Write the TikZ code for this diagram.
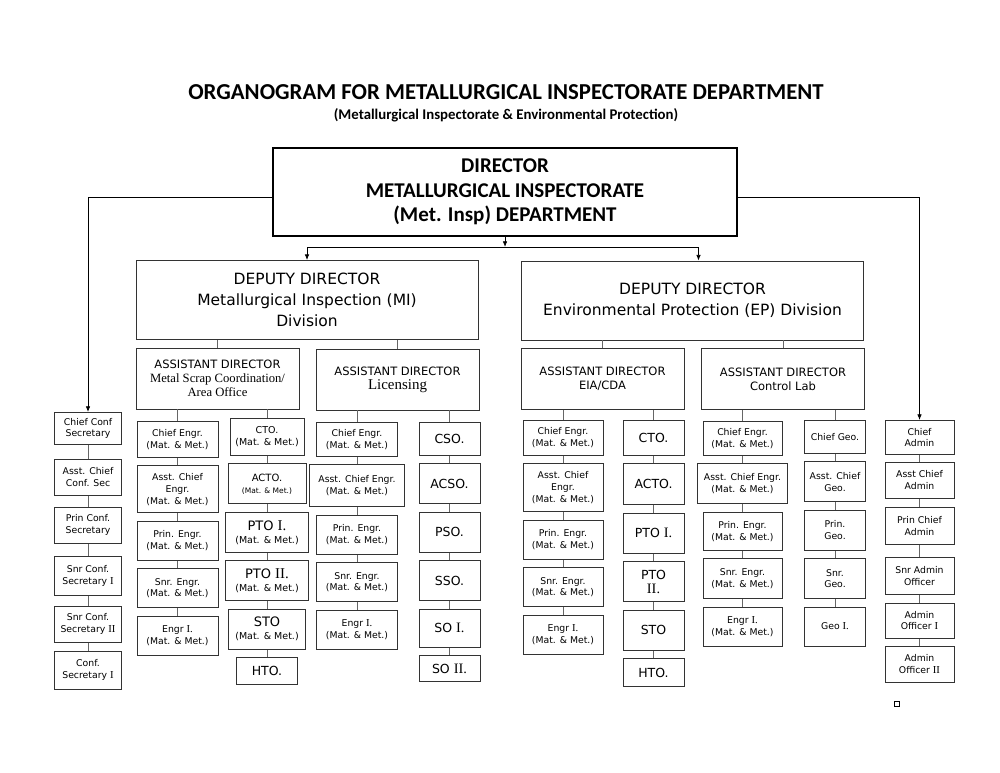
\documentclass[tikz,border=0pt]{standalone}
\usepackage{fontspec}
\setmainfont{DejaVu Sans}
\newfontfamily\calibri{Carlito}
\newfontfamily\serifI[Scale=1.15]{Liberation Serif}
\usetikzlibrary{arrows.meta,positioning}

\begin{document}
\begin{tikzpicture}[
    x=1pt, y=-1pt,
    node distance=7.5pt,
    box/.style={draw=black!80, line width=0.9pt, align=center, inner sep=1pt, font=\fontsize{9.3}{11.8}\selectfont},
    dirbox/.style={draw, line width=2.6pt, minimum width=464pt, minimum height=88pt, align=center, font=\calibri\bfseries\fontsize{21}{24.5}\selectfont},
    ddbox/.style={box, minimum width=342pt, minimum height=79pt, font=\fontsize{15.5}{21}\selectfont},
    adbox/.style={box, minimum width=163pt, minimum height=61pt, font=\fontsize{11.5}{14}\selectfont},
    engr/.style={box, minimum width=81pt, minimum height=39pt},
    tech/.style={box, minimum width=61pt, minimum height=40pt, font=\fontsize{12.5}{15}\selectfont},
    sec/.style={box, minimum width=67pt, minimum height=36pt},
    adm/.style={box, minimum width=69pt, minimum height=36pt},
    link/.style={draw=black!60, line width=0.9pt},
    arr/.style={-{Latex[length=2mm, width=1.6mm]}, line width=0.8pt}
]
\useasboundingbox (0,0) rectangle (1000,772);

% titles
\node[font=\calibri\bfseries\fontsize{22.8}{26}\selectfont] (title) at (506,92) {ORGANOGRAM FOR METALLURGICAL INSPECTORATE DEPARTMENT};
\node[font=\calibri\bfseries\fontsize{14.8}{17}\selectfont] (subtitle) at (506,115) {(Metallurgical Inspectorate \& Environmental Protection)};

% top of the tree
\node[dirbox] (dir) at (505,192) {DIRECTOR\\METALLURGICAL INSPECTORATE\\(Met. Insp) DEPARTMENT};
\node[ddbox] (ddmi) at (307,300) {DEPUTY DIRECTOR\\Metallurgical Inspection (MI)\\Division};
\node[ddbox] (ddep) at (692.5,300.5) {DEPUTY DIRECTOR\\Environmental Protection (EP) Division};

\node[adbox] (admsc) at (217.5,378.5) {ASSISTANT DIRECTOR\\{\serifI\fontsize{11}{14}\selectfont Metal Scrap Coordination/}\\{\serifI\fontsize{11}{14}\selectfont Area Office}};
\node[adbox] (adlic) at (397.5,379.5) {ASSISTANT DIRECTOR\\{\serifI\fontsize{13}{16}\selectfont Licensing}};
\node[adbox] (adeia) at (602.5,379) {ASSISTANT DIRECTOR\\EIA/CDA};
\node[adbox] (adlab) at (783,379) {ASSISTANT DIRECTOR\\Control Lab};

% MI - metal scrap, engineers
\node[engr, anchor=north, minimum height=36pt] (mce) at (177.5,421) {Chief Engr.\\(Mat. \& Met.)};
\node[engr, below=of mce, minimum height=47pt] (mace) {Asst. Chief\\Engr.\\(Mat. \& Met.)};
\node[engr, below=of mace] (mpe) {Prin. Engr.\\(Mat. \& Met.)};
\node[engr, below=of mpe] (mse) {Snr. Engr.\\(Mat. \& Met.)};
\node[engr, below=of mse] (mei) {Engr {\serifI I.}\\(Mat. \& Met.)};

% MI - metal scrap, technical officers
\node[tech, anchor=north, minimum width=74pt, minimum height=37pt, font=\fontsize{9.5}{12}\selectfont] (mcto) at (267,418) {CTO.\\(Mat. \& Met.)};
\node[tech, below=of mcto, minimum width=78pt, font=\fontsize{10}{12}\selectfont] (macto) {ACTO.\\{\fontsize{7.5}{9}\selectfont(Mat. \& Met.)}};
\node[tech, below=of macto, minimum width=83pt, font=\fontsize{9.5}{13}\selectfont] (mpto1) {{\fontsize{13}{15}\selectfont PTO \serifI I.}\\(Mat. \& Met.)};
\node[tech, below=of mpto1, minimum width=83pt, font=\fontsize{9.5}{13}\selectfont] (mpto2) {{\fontsize{13}{15}\selectfont PTO \serifI II.}\\(Mat. \& Met.)};
\node[tech, below=of mpto2, minimum width=77pt, font=\fontsize{9.5}{13}\selectfont] (msto) {{\fontsize{13}{15}\selectfont STO}\\(Mat. \& Met.)};
\node[tech, below=of msto, minimum height=27pt] (mhto) {HTO.};

% MI - licensing, engineers
\node[engr, anchor=north, minimum height=34pt] (lce) at (357,422) {Chief Engr.\\(Mat. \& Met.)};
\node[engr, below=of lce, minimum width=95pt, minimum height=42pt] (lace) {Asst. Chief Engr.\\(Mat. \& Met.)};
\node[engr, below=of lace] (lpe) {Prin. Engr.\\(Mat. \& Met.)};
\node[engr, below=of lpe] (lse) {Snr. Engr.\\(Mat. \& Met.)};
\node[engr, below=of lse] (lei) {Engr {\serifI I.}\\(Mat. \& Met.)};

% MI - licensing, scientific officers
\node[tech, anchor=north, minimum height=33pt] (lcso) at (449.5,422) {CSO.};
\node[tech, below=of lcso] (lacso) {ACSO.};
\node[tech, below=of lacso] (lpso) {PSO.};
\node[tech, below=of lpso] (lsso) {SSO.};
\node[tech, below=of lsso, minimum height=38pt] (lso1) {SO {\serifI I.}};
\node[tech, below=of lso1, minimum height=26pt] (lso2) {SO {\serifI II.}};

% EP - EIA/CDA, engineers
\node[engr, anchor=north, minimum width=80pt, minimum height=35pt] (ece) at (563,420) {Chief Engr.\\(Mat. \& Met.)};
\node[engr, below=of ece, minimum width=80pt, minimum height=48pt] (eace) {Asst. Chief\\Engr.\\(Mat. \& Met.)};
\node[engr, below=of eace, minimum width=80pt] (epe) {Prin. Engr.\\(Mat. \& Met.)};
\node[engr, below=of epe, minimum width=80pt] (ese) {Snr. Engr.\\(Mat. \& Met.)};
\node[engr, below=of ese, minimum width=80pt] (eei) {Engr {\serifI I.}\\(Mat. \& Met.)};

% EP - EIA/CDA, technical officers
\node[tech, anchor=north, minimum height=35pt] (ecto) at (653.5,420) {CTO.};
\node[tech, below=of ecto, minimum height=41pt] (eacto) {ACTO.};
\node[tech, below=of eacto] (epto1) {PTO {\serifI I.}};
\node[tech, below=of epto1, font=\fontsize{12.5}{14}\selectfont] (epto2) {PTO\\{\serifI II.}};
\node[tech, below=of epto2] (esto) {STO};
\node[tech, below=of esto, minimum height=28pt] (ehto) {HTO.};

% EP - control lab, engineers
\node[engr, anchor=north, minimum width=79pt, minimum height=34pt] (cce) at (742.5,421) {Chief Engr.\\(Mat. \& Met.)};
\node[engr, below=of cce, minimum width=90pt, minimum height=40pt] (cace) {Asst. Chief Engr.\\(Mat. \& Met.)};
\node[engr, below=of cace, minimum width=79pt, minimum height=38pt] (cpe) {Prin. Engr.\\(Mat. \& Met.)};
\node[engr, below=of cpe, minimum width=79pt, minimum height=40pt] (cse) {Snr. Engr.\\(Mat. \& Met.)};
\node[engr, below=of cse, minimum width=79pt] (cei) {Engr {\serifI I.}\\(Mat. \& Met.)};

% EP - control lab, geologists
\node[engr, anchor=north, minimum width=61pt, minimum height=33pt] (cgeo) at (835,420) {Chief Geo.};
\node[engr, below=of cgeo, minimum width=61pt, minimum height=40pt] (cageo) {Asst. Chief\\Geo.};
\node[engr, below=of cageo, minimum width=61pt, minimum height=40pt] (cpgeo) {Prin.\\Geo.};
\node[engr, below=of cpgeo, minimum width=61pt, minimum height=40pt] (csgeo) {Snr.\\Geo.};
\node[engr, below=of csgeo, minimum width=61pt] (cgeo1) {Geo {\serifI I.}};

% confidential secretaries
\node[sec, anchor=north, minimum height=32pt] (sec1) at (88,412) {Chief Conf\\Secretary};
\node[sec, below=14pt of sec1] (sec2) {Asst. Chief\\Conf. Sec};
\node[sec, below=11pt of sec2] (sec3) {Prin Conf.\\Secretary};
\node[sec, below=12pt of sec3, minimum height=39pt] (sec4) {Snr Conf.\\Secretary {\serifI I}};
\node[sec, below=10pt of sec4] (sec5) {Snr Conf.\\Secretary {\serifI II}};
\node[sec, below=8pt of sec5, minimum height=38pt] (sec6) {Conf.\\Secretary {\serifI I}};

% administration
\node[adm, anchor=north, minimum height=34pt] (adm1) at (919.5,420) {Chief\\Admin};
\node[adm, below=7pt of adm1] (adm2) {Asst Chief\\Admin};
\node[adm, below=8pt of adm2, minimum height=37pt] (adm3) {Prin Chief\\Admin};
\node[adm, below=12pt of adm3, minimum height=37pt] (adm4) {Snr Admin\\Officer};
\node[adm, below=8pt of adm4, minimum height=35pt] (adm5) {Admin\\Officer {\serifI I}};
\node[adm, below=7pt of adm5] (adm6) {Admin\\Officer {\serifI II}};

\node[draw, line width=0.8pt, minimum size=5pt, inner sep=0pt] (mark) at (897,704) {};

% arrows from the director
\coordinate (split) at (505,247);
\draw[arr] (dir.south) -- (split);
\draw[arr] (split) -| (ddmi.north);
\draw[arr] (split) -| ([xshift=6pt]ddep.north);
\draw[arr] ([yshift=-5pt]dir.west) -| (sec1.north);
\draw[arr] ([yshift=-5pt]dir.east) -| (adm1.north);

% deputies to assistants
\foreach \a/\b in {ddmi/admsc, ddmi/adlic, ddep/adeia, ddep/adlab}
    \draw[link] (\b.north) -- (\b.north |- \a.south);

% assistants down the columns
\foreach \a/\b in {admsc/mce, mce/mace, mace/mpe, mpe/mse, mse/mei,
                   admsc/mcto, mcto/macto, macto/mpto1, mpto1/mpto2, mpto2/msto, msto/mhto,
                   adlic/lce, lce/lace, lace/lpe, lpe/lse, lse/lei,
                   adlic/lcso, lcso/lacso, lacso/lpso, lpso/lsso, lsso/lso1, lso1/lso2,
                   adeia/ece, ece/eace, eace/epe, epe/ese, ese/eei,
                   adeia/ecto, ecto/eacto, eacto/epto1, epto1/epto2, epto2/esto, esto/ehto,
                   adlab/cce, cce/cace, cace/cpe, cpe/cse, cse/cei,
                   adlab/cgeo, cgeo/cageo, cageo/cpgeo, cpgeo/csgeo, csgeo/cgeo1,
                   sec1/sec2, sec2/sec3, sec3/sec4, sec4/sec5, sec5/sec6,
                   adm1/adm2, adm2/adm3, adm3/adm4, adm4/adm5, adm5/adm6}
    \draw[link] (\b.north) -- (\b.north |- \a.south);
\end{tikzpicture}
\end{document}
